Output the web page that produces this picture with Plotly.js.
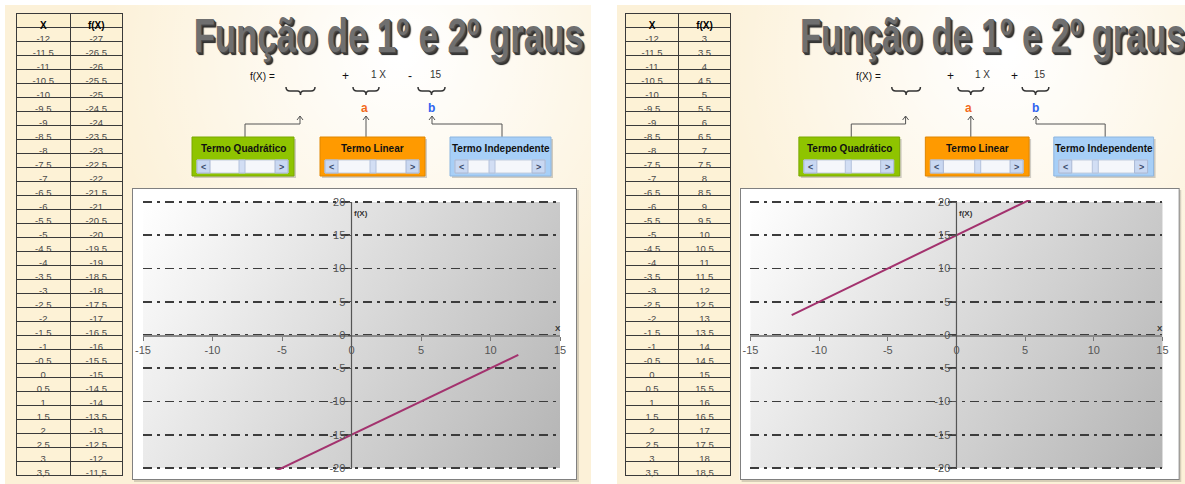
<!DOCTYPE html>
<html><head><meta charset="utf-8">
<script src="https://cdn.plot.ly/plotly-3.0.1.min.js"></script>
<style>html,body{margin:0;padding:0;background:#fff}#chart{width:1185px;height:484px}</style>
</head><body><div id="chart"></div>
<script>
// ---------------- data ----------------
const xValues = [-12,-11.5,-11,-10.5,-10,-9.5,-9,-8.5,-8,-7.5,-7,-6.5,-6,-5.5,-5,-4.5,-4,-3.5,-3,-2.5,-2,-1.5,-1,-0.5,0,0.5,1,1.5,2,2.5,3,3.5,4,4.5,5,5.5,6,6.5,7,7.5,8,8.5,9,9.5,10,10.5,11,11.5,12];
const fLeft = [-27,-26.5,-26,-25.5,-25,-24.5,-24,-23.5,-23,-22.5,-22,-21.5,-21,-20.5,-20,-19.5,-19,-18.5,-18,-17.5,-17,-16.5,-16,-15.5,-15,-14.5,-14,-13.5,-13,-12.5,-12,-11.5,-11,-10.5,-10,-9.5,-9,-8.5,-8,-7.5,-7,-6.5,-6,-5.5,-5,-4.5,-4,-3.5,-3];
const fRight = [3,3.5,4,4.5,5,5.5,6,6.5,7,7.5,8,8.5,9,9.5,10,10.5,11,11.5,12,12.5,13,13.5,14,14.5,15,15.5,16,16.5,17,17.5,18,18.5,19,19.5,20,20.5,21,21.5,22,22.5,23,23.5,24,24.5,25,25.5,26,26.5,27];
const tableRows = 32;
const coefA = [1, 1];
const coefB = [-15, 15];
const xTickVals = [-15,-10,-5,0,5,10,15];
const xTickText = ['-15','-10','-5','0','5','10','15'];
const yTickVals = [-20,-15,-10,-5,0,5,10,15,20];
const yTickText = ['-20','-15','-10','-5','0','5','10','15','20'];
const tableHeader = ['X','f(X)'];
const boxLabels = ['Termo Quadrático','Termo Linear','Termo Independente'];
const titleText = 'Função de 1º e 2º graus';

// ---------------- helpers ----------------
const W = 1185, H = 484;
const fx = x => x / W, fy = y => 1 - y / H;
const panels = [
  {T: x => x, f: fLeft, a: coefA[0], b: coefB[0], xa: 'x', ya: 'y', ax: 'xaxis', ay: 'yaxis'},
  {T: x => 625 + (x - 16) * 0.988, f: fRight, a: coefA[1], b: coefB[1], xa: 'x2', ya: 'y2', ax: 'xaxis2', ay: 'yaxis2'}
];
const SANS = 'Liberation Sans, Arial, sans-serif';

function makeBg() {
  const c = document.createElement('canvas'); c.width = W; c.height = H;
  const g = c.getContext('2d');
  g.fillStyle = '#fff'; g.fillRect(0, 0, W, H);
  const px = [[5, 591], [617, 1185]];
  panels.forEach((p, i) => {
    const [x0, x1] = px[i];
    g.fillStyle = '#fcf1d8'; g.fillRect(x0, 5, x1 - x0, H - 5);
    const cx = p.T(400);
    const rg = g.createRadialGradient(cx, 50, 10, cx, 60, 300);
    rg.addColorStop(0, 'rgba(255,255,255,1)');
    rg.addColorStop(1, 'rgba(255,255,255,0)');
    g.fillStyle = rg; g.fillRect(x0, 5, x1 - x0, H - 5);
    const f0 = p.T(132), f1 = p.T(577);
    g.fillStyle = 'rgba(0,0,0,0.15)'; g.fillRect(f0 + 2, 190, f1 - f0, 292);
    g.fillStyle = '#fff'; g.fillRect(f0, 188, f1 - f0, 292);
    g.strokeStyle = '#808080'; g.lineWidth = 1; g.strokeRect(Math.round(f0) + 0.5, 188.5, f1 - f0 - 1, 291);
    const q0 = p.T(143), q1 = p.T(560);
    const lg = g.createLinearGradient(q0, 202, q1, 468);
    lg.addColorStop(0, '#ffffff'); lg.addColorStop(1, '#b4b4b4');
    g.fillStyle = lg; g.fillRect(q0, 202, q1 - q0, 266);
  });
  return c.toDataURL();
}

function rect(x0, y0, x1, y1, fill, line) {
  return {type: 'rect', xref: 'paper', yref: 'paper', x0: fx(x0), x1: fx(x1), y0: fy(y1), y1: fy(y0),
    fillcolor: fill, line: line ? {color: line, width: 1} : {width: 0}, layer: 'above'};
}
function path(cmds, color, width) {
  const d = cmds.map(c => c[0] + ' ' + c.slice(1).reduce((s, v, i) => s + (i % 2 === 0 ? (i ? ' ' : '') + fx(v) : ',' + fy(v)), '')).join(' ');
  return {type: 'path', xref: 'paper', yref: 'paper', path: d, line: {color: color || '#555', width: width || 1}, layer: 'above'};
}
function ann(x, y, text, font, extra) {
  return Object.assign({xref: 'paper', yref: 'paper', x: fx(x), y: fy(y), text: text, showarrow: false,
    xanchor: 'center', yanchor: 'middle', font: Object.assign({family: SANS, size: 10, color: '#222'}, font || {})}, extra || {});
}
function brace(x0, x1, y0) {
  const xc = (x0 + x1) / 2;
  return path([['M', x0, y0], ['Q', x0, y0 + 4, x0 + 4, y0 + 4], ['L', xc - 3, y0 + 4], ['Q', xc, y0 + 4, xc, y0 + 8],
    ['Q', xc, y0 + 4, xc + 3, y0 + 4], ['L', x1 - 4, y0 + 4], ['Q', x1, y0 + 4, x1, y0]], '#333', 1.5);
}
function arrowHead(x, y) { return path([['M', x - 3, y + 4], ['L', x, y], ['L', x + 3, y + 4]], '#555', 1); }
const fmt = v => String(v).replace('.', ',');

// ---------------- build ----------------
const data = [], shapes = [], annotations = [];
const layout = {width: W, height: H, margin: {l: 0, r: 0, t: 0, b: 0}, showlegend: false,
  paper_bgcolor: '#fff', plot_bgcolor: 'rgba(0,0,0,0)',
  images: [{source: makeBg(), xref: 'paper', yref: 'paper', x: 0, y: 1, sizex: 1, sizey: 1,
    xanchor: 'left', yanchor: 'top', sizing: 'stretch', layer: 'below'}]};

const YR = 20.3;               // small pad so the ±20 grid lines are drawn
const pxPerUnit = 266 / 40;
panels.forEach(p => {
  const T = p.T;
  // table
  data.push({type: 'table', domain: {x: [fx(T(16)), fx(T(123))], y: [0, fy(13)]}, columnwidth: [55, 52],
    header: {values: tableHeader, height: 14, align: 'center', fill: {color: '#fcf0cf'},
      line: {color: '#3a3a3a', width: 1}, font: {family: SANS, size: 10, color: '#000', weight: 'bold'}},
    cells: {values: [xValues.slice(0, tableRows).map(fmt), p.f.slice(0, tableRows).map(fmt)], height: 14,
      align: 'center', fill: {color: '#fdf2d6'}, line: {color: '#3a3a3a', width: 1},
      font: {family: SANS, size: 9.5, color: '#4a4a4a'}}});
  // line
  data.push({type: 'scatter', mode: 'lines', x: xValues, y: p.f, xaxis: p.xa, yaxis: p.ya,
    line: {color: '#a3326e', width: 2}, hoverinfo: 'skip'});
  // axes
  const yMid = 335, half = YR * pxPerUnit;
  const xd = [fx(T(143)), fx(T(560))], yd = [fy(yMid + half), fy(yMid - half)];
  layout[p.ax] = {domain: xd, range: [-15, 15], anchor: 'free', position: fy(yMid),
    tickmode: 'array', tickvals: xTickVals, ticktext: xTickText, ticks: 'outside', ticklen: 4, tickcolor: '#777',
    showline: true, linecolor: '#8a8a8a', linewidth: 1.5, showgrid: false, zeroline: false,
    tickfont: {family: SANS, size: 11, color: '#555'}, fixedrange: true};
  layout[p.ay] = {domain: yd, range: [-YR, YR], anchor: 'free', position: (xd[0] + xd[1]) / 2,
    tickmode: 'array', tickvals: yTickVals, ticktext: yTickText, ticks: 'outside', ticklen: 4, tickcolor: '#555',
    showline: false, showgrid: true, gridcolor: '#3c3c3c', gridwidth: 1.6,
    griddash: '9px,5px,3px,5px', zeroline: false,
    tickfont: {family: SANS, size: 11, color: '#555'}, fixedrange: true};
  // vertical axis line from -20 to 20
  shapes.push({type: 'line', xref: p.xa, yref: p.ya, x0: 0, x1: 0, y0: yTickVals[0], y1: yTickVals[yTickVals.length - 1],
    line: {color: '#555', width: 1.2}, layer: 'above'});
  annotations.push(ann(T(361), 213, 'f(X)', {size: 8, weight: 'bold', color: '#333'}));
  annotations.push(ann(T(558), 328, 'X', {size: 8, weight: 'bold', color: '#333'}));

  // title
  annotations.push(ann(T(388), 35, titleText, {family: SANS, size: 48, weight: 'bold', color: '#6f6f6f',
    shadow: '1px 1px 0 #4a4a4a, 2px 2px 0 #3a3a3a, 3px 3px 1px #222'}, {name: 'title'}));

  // formula
  annotations.push(ann(T(262), 77, 'f(X) =', {size: 10, color: '#111'}));
  annotations.push(ann(T(345), 76, '+', {size: 12, color: '#111'}));
  annotations.push(ann(T(378), 75, p.a + ' X', {size: 10, color: '#333'}));
  annotations.push(ann(T(410), 76, p.b < 0 ? '-' : '+', {size: 12, color: '#111'}));
  annotations.push(ann(T(436), 75, String(Math.abs(p.b)), {size: 10, color: '#333'}));
  shapes.push(brace(T(286), T(315), 87));
  shapes.push(brace(T(353), T(379), 87));
  shapes.push(brace(T(418), T(445), 87));
  annotations.push(ann(T(364), 108, 'a', {size: 12, weight: 'bold', color: '#f26a1b'}));
  annotations.push(ann(T(431), 108, 'b', {size: 12, weight: 'bold', color: '#2f63f0'}));

  // connectors
  shapes.push(path([['M', T(245), 137], ['L', T(245), 124], ['L', T(300), 124], ['L', T(300), 116]], '#555', 1));
  shapes.push(arrowHead(T(300), 116));
  shapes.push(path([['M', T(366), 137], ['L', T(366), 116]], '#555', 1));
  shapes.push(arrowHead(T(366), 116));
  shapes.push(path([['M', T(502), 137], ['L', T(502), 124], ['L', T(432), 124], ['L', T(432), 116]], '#555', 1));
  shapes.push(arrowHead(T(432), 116));

  // control boxes
  const boxes = [[192, 294, '#8fc400', '#7aa800', 242], [320, 425, '#ff9a00', '#e08600', 373], [450, 551, '#a7cff7', '#8db6e0', 492]];
  boxes.forEach((bx, i) => {
    const x0 = T(bx[0]), x1 = T(bx[1]), tc = T(bx[4]);
    shapes.push(rect(x0 + 2, 139, x1 + 2, 178, 'rgba(0,0,0,0.18)'));
    shapes.push(rect(x0, 137, x1, 176, bx[2], bx[3]));
    shapes.push(rect(x0 + 5, 160, x1 - 6, 173, '#f5f7fb', '#c4cede'));
    shapes.push(rect(x0 + 5, 160, x0 + 18, 173, '#c9d8f2', '#aab8d4'));
    shapes.push(rect(x1 - 19, 160, x1 - 6, 173, '#c9d8f2', '#aab8d4'));
    shapes.push(rect(tc - 3, 160, tc + 3, 173, '#d2def4', '#b4c2dc'));
    annotations.push(ann((x0 + x1) / 2, 148, boxLabels[i], {size: 10, weight: 'bold', color: '#111'}));
    annotations.push(ann(x0 + 11.5, 166.5, '&lt;', {size: 9, weight: 'bold', color: '#3a4a6a'}));
    annotations.push(ann(x1 - 12.5, 166.5, '&gt;', {size: 9, weight: 'bold', color: '#3a4a6a'}));
  });
});

layout.shapes = shapes;
layout.annotations = annotations;
Plotly.newPlot('chart', data, layout, {displayModeBar: false, staticPlot: true}).then(() => {
  // squeeze the WordArt-like title horizontally to its measured width
  const targets = [390, 390 * 0.988];
  let k = 0;
  document.querySelectorAll('.annotation-text').forEach(t => {
    if (t.textContent === titleText) {
      const w = t.getBBox().width;
      const s = targets[k++] / w;
      t.style.transformBox = 'fill-box';
      t.style.transformOrigin = '50% 50%';
      t.style.transform = 'scaleX(' + s + ')';
    }
  });
});
</script>
</body></html>
